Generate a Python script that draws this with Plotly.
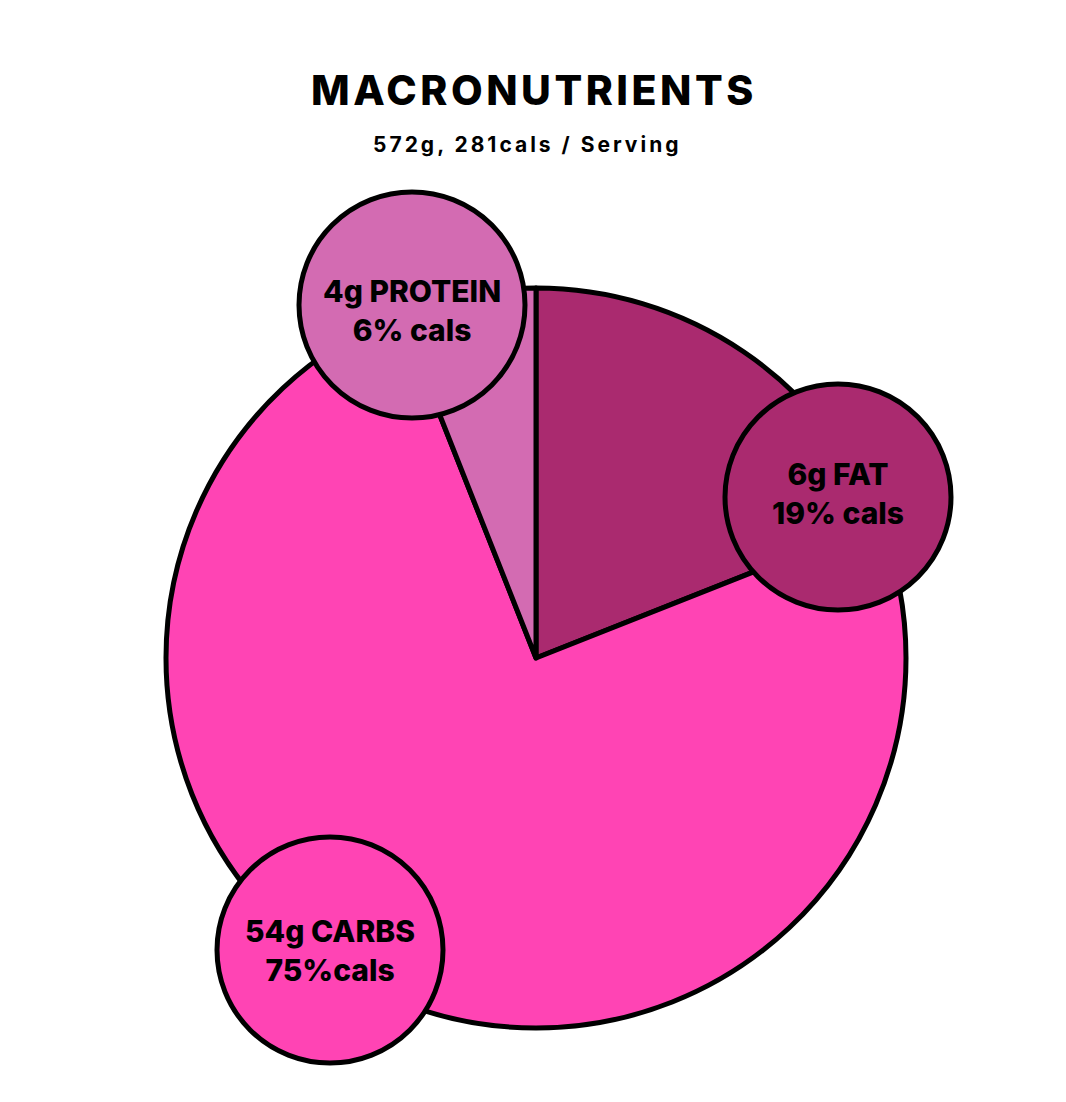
import plotly.graph_objects as go

# ---- data ----
nutrients = ["FAT", "CARBS", "PROTEIN"]
grams = [6, 54, 4]
cal_pct = [19, 75, 6]
pct_sep = [" ", "", " "]          # "75%cals" has no space in the original
title_text = "MACRONUTRIENTS"
subtitle_text = "572g, 281cals / Serving"

# ---- styles / layout (pixels, page coordinates) ----
OFF = 8                      # default page body margin
W, H = 1066 - 2 * OFF, 1102 - 2 * OFF
colors = ["#AA2A6F", "#FF44B4", "#D36BB2"]
pie_cx, pie_cy, pie_r = 536, 658, 370
bubble_centers = [(838, 497), (330, 950), (412, 305)]
label_dy = [-4, 0, 5]
bubble_r = 113
FONT = "Inter"


def px_x(x):
    return (x - OFF) / W


def px_y(y):
    return 1 - (y - OFF) / H


fig = go.Figure()
fig.add_trace(go.Pie(
    labels=nutrients,
    values=cal_pct,
    sort=False,
    direction="clockwise",
    rotation=0,
    textinfo="none",
    hoverinfo="label+percent",
    marker=dict(colors=colors, line=dict(color="black", width=5)),
    domain=dict(x=[px_x(pie_cx - pie_r), px_x(pie_cx + pie_r)],
                y=[px_y(pie_cy + pie_r), px_y(pie_cy - pie_r)]),
    showlegend=False,
))

shapes = []
annotations = []
for name, g, p, sep, col, (cx, cy), dy in zip(nutrients, grams, cal_pct, pct_sep, colors,
                                               bubble_centers, label_dy):
    shapes.append(dict(
        type="circle", xref="paper", yref="paper", layer="above",
        x0=px_x(cx - bubble_r), x1=px_x(cx + bubble_r),
        y0=px_y(cy + bubble_r), y1=px_y(cy - bubble_r),
        fillcolor=col, line=dict(color="black", width=5),
    ))
    annotations.append(dict(
        xref="paper", yref="paper", x=px_x(cx), y=px_y(cy + dy),
        text=f"{g}g {name}<br>{p}%{sep}cals", showarrow=False,
        xanchor="center", yanchor="middle", align="center",
        font=dict(family=FONT, size=30, color="black", weight=800),
    ))

annotations.append(dict(
    xref="paper", yref="paper", x=px_x(534), y=px_y(90),
    text=f"<span style='letter-spacing:3.5px'>{title_text}</span>", showarrow=False,
    xanchor="center", yanchor="middle",
    font=dict(family=FONT, size=41, color="black", weight=800),
))
annotations.append(dict(
    xref="paper", yref="paper", x=px_x(527), y=px_y(144),
    text=f"<span style='letter-spacing:3px'>{subtitle_text}</span>", showarrow=False,
    xanchor="center", yanchor="middle",
    font=dict(family=FONT, size=21, color="black", weight=700),
))

fig.update_layout(
    width=W, height=H,
    margin=dict(l=0, r=0, t=0, b=0),
    paper_bgcolor="white", plot_bgcolor="white",
    shapes=shapes, annotations=annotations,
)

fig.write_html("out.html")
